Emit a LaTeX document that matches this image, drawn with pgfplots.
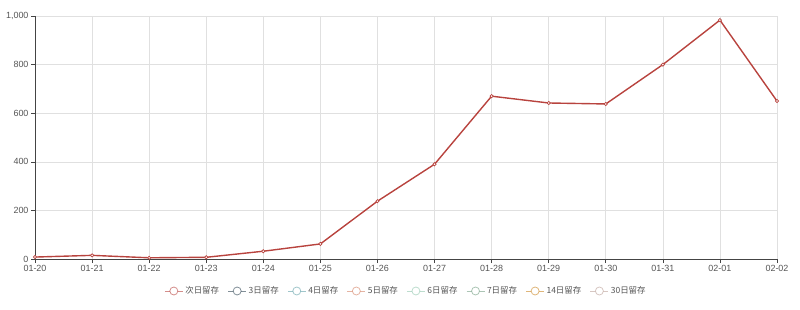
\documentclass[border=0pt]{standalone}
\usepackage{pgfplots}
\pgfplotsset{compat=1.18}
\usepackage{fontspec}
\setmainfont{Liberation Sans}
\newfontfamily\cjk{Noto Sans CJK SC}
\definecolor{c1}{HTML}{B8433E}
\definecolor{c2}{HTML}{2F4554}
\definecolor{c3}{HTML}{61A0A8}
\definecolor{c4}{HTML}{D48265}
\definecolor{c5}{HTML}{91C7AE}
\definecolor{c6}{HTML}{749F83}
\definecolor{c7}{HTML}{CA8622}
\definecolor{c8}{HTML}{BDA29A}
\definecolor{axc}{HTML}{444444}
\definecolor{tkc}{HTML}{555555}
\definecolor{grc}{HTML}{E0E0E0}
\begin{document}
\begin{tikzpicture}
\path[use as bounding box] (-35bp,-51bp) rectangle (765bp,259bp);
\begin{axis}[
  at={(0,0)}, anchor=origin,
  scale only axis, width=742bp, height=243bp,
  xmin=0, xmax=13, ymin=0, ymax=1000,
  xtick={0,...,13},
  xticklabels={01-20,01-21,01-22,01-23,01-24,01-25,01-26,01-27,01-28,01-29,01-30,01-31,02-01,02-02},
  ytick={0,200,400,600,800,1000},
  yticklabels={0,200,400,600,800,{1,000}},
  axis x line*=bottom, axis y line*=left,
  axis line style={axc, line width=0.8pt, -},
  tick style={axc, line width=0.6pt},
  tick align=outside, major tick length=4bp,
  grid=major, major grid style={grc, line width=0.6pt},
  ticklabel style={font=\fontsize{9}{10}\selectfont, text=tkc},
  /pgf/number format/assume math mode=true,
  xticklabel style={yshift=1bp},
  yticklabel style={xshift=1bp},
  clip=false,
  legend columns=8,
  legend style={at={(0.5,-32bp)}, anchor=center, draw=none, fill=none,
    font=\cjk\fontsize{8.5}{10}\selectfont, text=tkc,
    /tikz/every even column/.append style={column sep=6.5bp}},
  legend image code/.code={
    \draw[#1, line width=1pt, opacity=0.6] (0bp,0bp) -- (18bp,0bp);
    \draw[#1, line width=0.8pt, fill=white, draw opacity=0.6] (9bp,0bp) circle (4bp);
  },
]
\addplot[c1, line width=1.4pt, mark=*, mark size=1.6bp, mark options={fill=white, line width=0.7pt}]
coordinates {(0,8) (1,15) (2,5) (3,7) (4,32) (5,62) (6,238) (7,390) (8,670) (9,642) (10,638) (11,800) (12,983) (13,650)};
\addlegendentry{次日留存}
\addlegendimage{c2}\addlegendentry{3日留存}
\addlegendimage{c3}\addlegendentry{4日留存}
\addlegendimage{c4}\addlegendentry{5日留存}
\addlegendimage{c5}\addlegendentry{6日留存}
\addlegendimage{c6}\addlegendentry{7日留存}
\addlegendimage{c7}\addlegendentry{14日留存}
\addlegendimage{c8}\addlegendentry{30日留存}
\end{axis}
\end{tikzpicture}
\end{document}
